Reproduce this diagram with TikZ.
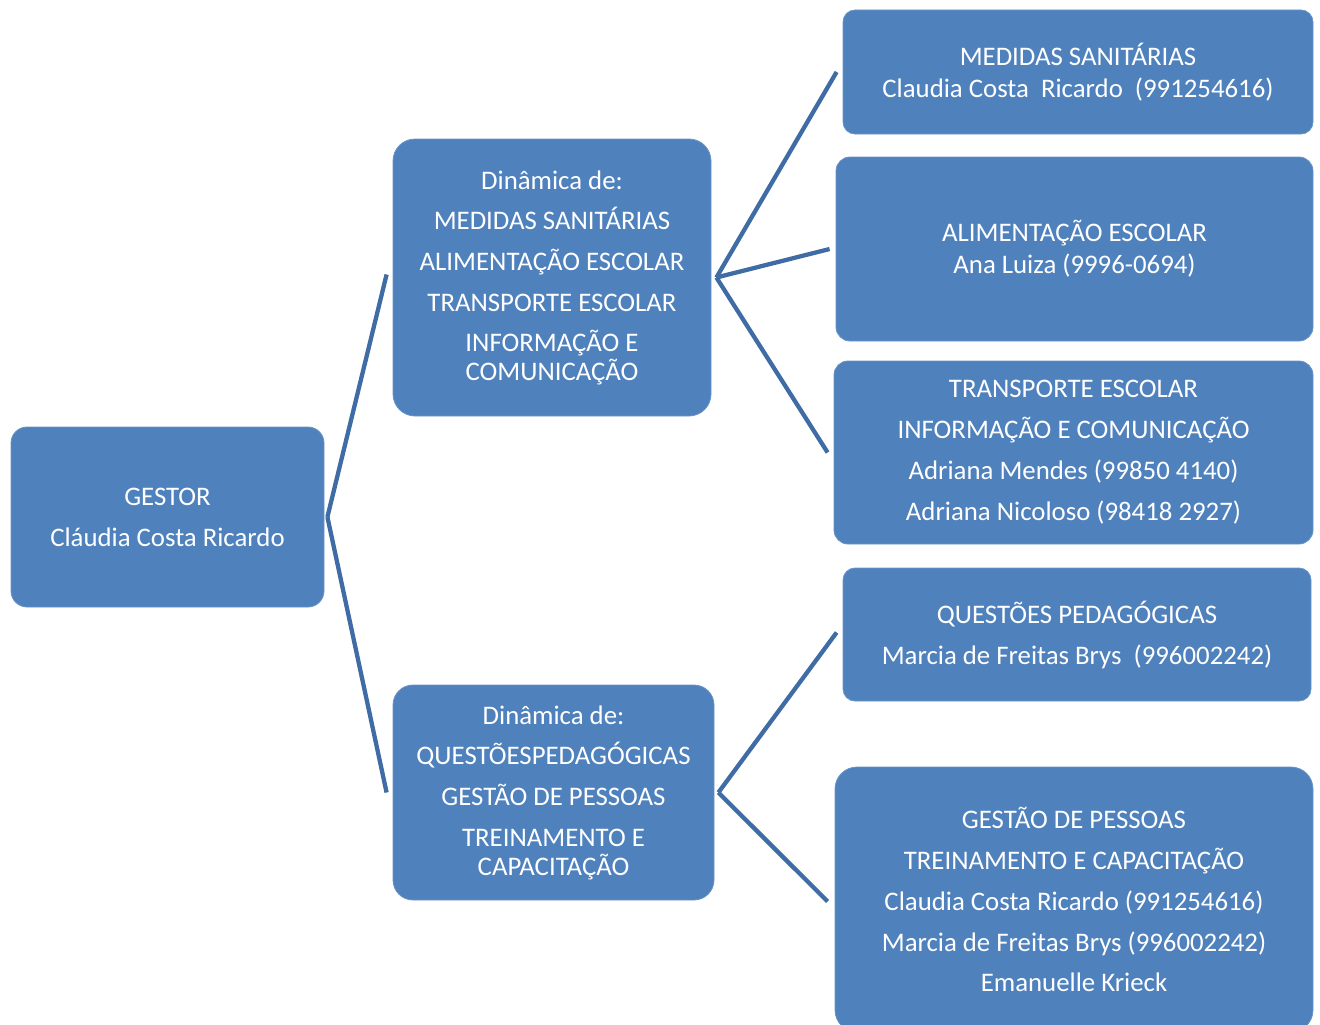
\documentclass[tikz,border=0pt]{standalone}
\usepackage{fontspec}
\setmainfont{Carlito}
\definecolor{boxblue}{HTML}{4F81BD}
\definecolor{lineblue}{HTML}{3F6CA4}
\begin{document}
\begin{tikzpicture}[x=1pt,y=-1pt,
  box/.style={rectangle, fill=boxblue, draw=boxblue!85!white, line width=0.8pt, text=white,
    align=center, inner sep=0pt, font=\fontsize{26.8}{29}\selectfont},
  conn/.style={draw=lineblue, line width=4.3pt}]
\useasboundingbox (0,0) rectangle (1320,1025);
\begin{scope}
\clip (0,0) rectangle (1320,1025);
\node[box, rounded corners=16pt, minimum width=313pt, minimum height=180pt] (gestor) at (167.5,517)
  {GESTOR\\[12pt] Cláudia Costa Ricardo};
\node[box, rounded corners=22pt, minimum width=318pt, minimum height=277pt] (mid1) at (552,277.5)
  {Dinâmica de:\\[11pt] MEDIDAS SANITÁRIAS\\[12pt] ALIMENTAÇÃO ESCOLAR\\[12pt] TRANSPORTE ESCOLAR\\[11pt] INFORMAÇÃO E\\ COMUNICAÇÃO};
\node[box, rounded corners=20pt, minimum width=321pt, minimum height=215pt] (mid2) at (553.5,792.5)
  {Dinâmica de:\\[11pt] QUESTÕESPEDAGÓGICAS\\[12pt] GESTÃO DE PESSOAS\\[12pt] TREINAMENTO E\\ CAPACITAÇÃO};
\node[box, rounded corners=12pt, minimum width=470pt, minimum height=124pt] (r1) at (1078,72)
  {MEDIDAS SANITÁRIAS\\[3pt] Claudia Costa\ \ Ricardo\ \ (991254616)};
\node[box, rounded corners=14pt, minimum width=477pt, minimum height=184pt] (r2) at (1074.5,249)
  {ALIMENTAÇÃO ESCOLAR\\[3pt] Ana Luiza (9996-0694)};
\node[box, rounded corners=14pt, minimum width=479pt, minimum height=183pt] (r3) at (1073.5,452.5)
  {TRANSPORTE ESCOLAR\\[12pt] INFORMAÇÃO E COMUNICAÇÃO\\[12pt] Adriana Mendes (99850 4140)\\[12pt] Adriana Nicoloso (98418 2927)};
\node[box, rounded corners=12pt, minimum width=468pt, minimum height=133pt] (r4) at (1077,634.5)
  {QUESTÕES PEDAGÓGICAS\\[12pt] Marcia de Freitas Brys\ \ (996002242)};
\node[box, rounded corners=22pt, minimum width=478pt, minimum height=265pt] (r5) at (1074,899.5)
  {GESTÃO DE PESSOAS\\[12pt] TREINAMENTO E CAPACITAÇÃO\\[12pt] Claudia Costa Ricardo (991254616)\\[12pt] Marcia de Freitas Brys (996002242)\\[11pt] Emanuelle Krieck};
\end{scope}
\draw[conn] ([xshift=3pt]gestor.east) -- ([xshift=-6pt,yshift=3pt]mid1.west);
\draw[conn] ([xshift=3pt]gestor.east) -- ([xshift=-6pt]mid2.west);
\draw[conn] ([xshift=5pt]mid1.east) -- ([xshift=-6pt]r1.west);
\draw[conn] ([xshift=5pt]mid1.east) -- ([xshift=-6pt]r2.west);
\draw[conn] ([xshift=5pt]mid1.east) -- ([xshift=-6pt]r3.west);
\draw[conn] ([xshift=4pt]mid2.east) -- ([xshift=-6pt,yshift=2pt]r4.west);
\draw[conn] ([xshift=4pt]mid2.east) -- ([xshift=-7pt,yshift=-2pt]r5.west);
\end{tikzpicture}
\end{document}
